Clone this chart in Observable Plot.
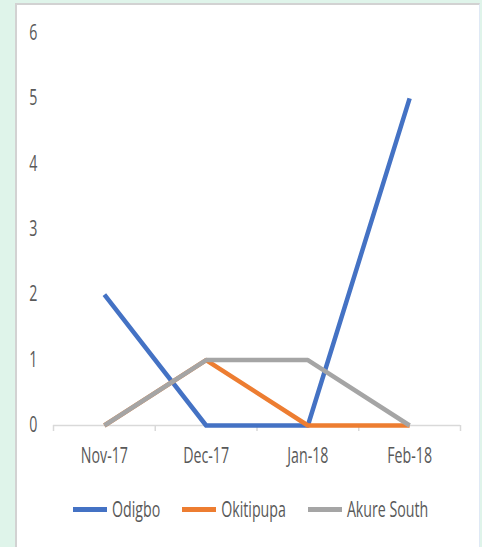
<!DOCTYPE html>
<html>
<head>
<meta charset="utf-8">
<script src="https://cdn.jsdelivr.net/npm/d3@7"></script>
<script src="https://cdn.jsdelivr.net/npm/@observablehq/plot@0.6"></script>
<style>
  html, body { margin: 0; padding: 0; }
  body { width: 482px; height: 547px; background: #dff4ea; position: relative; overflow: hidden; font-family: "Open Sans", sans-serif; }
  #panel { position: absolute; left: 15px; top: 3px; width: 462px; height: 560px; background: #fff;
           border-left: 2px solid #d2d2d2; border-top: 2px solid #d2d2d2; border-right: 1px solid #dfe9f5; }
  #chart { position: absolute; left: 0; top: 0; }
  #legend { position: absolute; left: 73px; top: 499px; display: flex; gap: 22px; align-items: center; }
  .item { display: flex; align-items: center; gap: 5px; }
  .sw { width: 34px; height: 5px; }
  .lab { display: inline-block; font-size: 14.2px; color: #595959; transform: scaleY(1.5); line-height: 20px; }
</style>
</head>
<body>
<div id="panel"></div>
<div id="chart"></div>
<div id="legend"></div>
<script>
const categories = ["Nov-17", "Dec-17", "Jan-18", "Feb-18"];
const seriesNames = ["Odigbo", "Okitipupa", "Akure South"];
const odigbo = [2, 0, 0, 5];
const okitipupa = [0, 1, 0, 0];
const akureSouth = [0, 1, 1, 0];
const yTicks = [0, 1, 2, 3, 4, 5, 6];
const colors = ["#4472C4", "#ED7D31", "#A5A5A5"];

const seriesValues = [odigbo, okitipupa, akureSouth];
const rows = [];
seriesNames.forEach((s, k) => seriesValues[k].forEach((v, i) => rows.push({series: s, i, value: v})));
const idx = categories.map((d, i) => i);
const edges = [...idx.map(i => i - 0.5), categories.length - 0.5];

const textColor = "#595959";
const axisColor = "#d9d9d9";

const plot = Plot.plot({
  width: 482,
  height: 547,
  marginLeft: 53,
  marginRight: 22,
  marginTop: 32.5,
  marginBottom: 122,
  style: {background: "transparent", fontFamily: "'Open Sans', sans-serif", fontSize: "14.2px", color: textColor},
  x: {type: "linear", domain: [-0.5, categories.length - 0.5]},
  y: {domain: [0, 6]},
  marks: [
    Plot.ruleY([0], {stroke: axisColor, strokeWidth: 1.5}),
    Plot.axisX(edges, {tickSize: 6, stroke: axisColor, strokeWidth: 1.5, tickFormat: () => "", label: null}),
    Plot.axisX(idx, {tickSize: 0, tickPadding: 22.5, tickFormat: i => categories[i], fill: textColor, label: null, fontSize: 14.2}),
    Plot.axisY(yTicks, {tickSize: 0, tickPadding: 16, tickFormat: d => String(d), fill: textColor, label: null, fontSize: 14.2}),
    ...seriesNames.map((s, k) => Plot.line(rows.filter(r => r.series === s), {
      x: "i", y: "value", stroke: colors[k], strokeWidth: 4.5, strokeLinejoin: "round", strokeLinecap: "butt"
    }))
  ]
});

// stretch text vertically to mimic the tall, narrow font of the original
const S = 1.5;
plot.querySelectorAll("text").forEach(el => {
  let tr = el.getAttribute("transform") || "";
  const x = el.getAttribute("x"), y = el.getAttribute("y");
  let tx = 0, ty = 0;
  if (x != null && /^-?[\d.]+$/.test(x)) { tx = +x; el.removeAttribute("x"); }
  if (y != null && /^-?[\d.]+$/.test(y)) { ty = +y; el.removeAttribute("y"); }
  if (tx || ty) tr += ` translate(${tx},${ty})`;
  el.setAttribute("transform", (tr + ` scale(1,${S})`).trim());
});

document.getElementById("chart").appendChild(plot);

const legend = document.getElementById("legend");
seriesNames.forEach((s, k) => {
  const item = document.createElement("div");
  item.className = "item";
  const sw = document.createElement("div");
  sw.className = "sw";
  sw.style.background = colors[k];
  const lab = document.createElement("span");
  lab.className = "lab";
  lab.textContent = s;
  item.appendChild(sw);
  item.appendChild(lab);
  legend.appendChild(item);
});
</script>
</body>
</html>
